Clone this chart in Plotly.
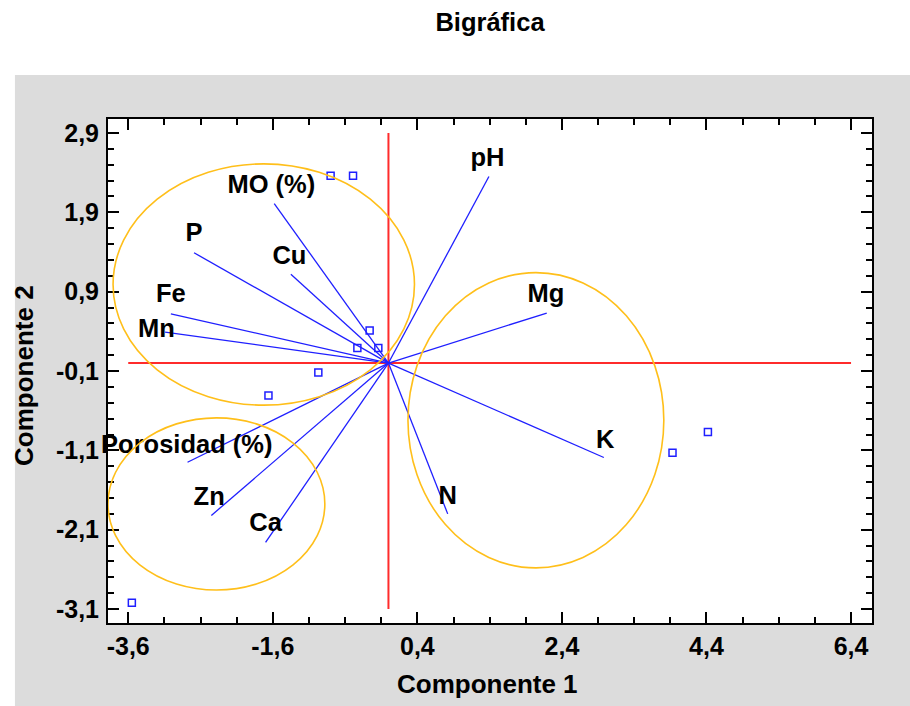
import plotly.graph_objects as go

# ---- data ----
variables = ["MO (%)", "P", "Cu", "Fe", "Mn", "pH", "Mg", "K", "N",
             "Porosidad (%)", "Zn", "Ca"]
load_x = [-1.58, -2.69, -1.35, -3.01, -3.09, 1.39, 2.19, 2.98, 0.82, -2.78, -2.45, -1.70]
load_y = [2.01, 1.39, 1.12, 0.62, 0.39, 2.35, 0.63, -1.19, -1.90, -1.25, -1.92, -2.26]
label_x = [-1.62, -2.69, -1.37, -3.01, -3.21, 1.37, 2.18, 3.00, 0.82, -2.79, -2.48, -1.70]
label_y = [2.22, 1.62, 1.33, 0.85, 0.41, 2.56, 0.85, -0.99, -1.70, -1.05, -1.71, -2.04]

score_x = [-0.80, -0.49, -0.26, -0.43, -0.14, -0.97, -1.66, -3.55, 3.93, 4.42]
score_y = [2.36, 2.36, 0.41, 0.19, 0.19, -0.12, -0.41, -3.02, -1.13, -0.87]

ellipse_x0 = [-3.81, -3.88, 0.27]
ellipse_x1 = [0.36, -0.88, 3.81]
ellipse_y0 = [-0.53, -2.86, -2.58]
ellipse_y1 = [2.51, -0.69, 1.14]

x_ticks = [-3.6, -1.6, 0.4, 2.4, 4.4, 6.4]
x_ticktext = ["-3,6", "-1,6", "0,4", "2,4", "4,4", "6,4"]
y_ticks = [2.9, 1.9, 0.9, -0.1, -1.1, -2.1, -3.1]
y_ticktext = ["2,9", "1,9", "0,9", "-0,1", "-1,1", "-2,1", "-3,1"]

hline_x = [-3.6, 6.4]
vline_y = [-3.1, 2.9]

FONT = "Liberation Sans"
BLUE = "#1f1fff"
RED = "#ff2b2b"
ORANGE = "#ffbf1a"

fig = go.Figure()

# red reference axes through the origin
fig.add_trace(go.Scatter(x=hline_x, y=[0, 0], mode="lines",
                         line=dict(color=RED, width=2), hoverinfo="skip"))
fig.add_trace(go.Scatter(x=[0, 0], y=vline_y, mode="lines",
                         line=dict(color=RED, width=2), hoverinfo="skip"))

# loading vectors
vx, vy = [], []
for x, y in zip(load_x, load_y):
    vx += [0, x, None]
    vy += [0, y, None]
fig.add_trace(go.Scatter(x=vx, y=vy, mode="lines",
                         line=dict(color=BLUE, width=1.3), hoverinfo="skip"))

# observation scores
fig.add_trace(go.Scatter(x=score_x, y=score_y, mode="markers",
                         marker=dict(symbol="square-open", size=7, color=BLUE,
                                     line=dict(width=1.5, color=BLUE))))

# variable labels
fig.add_trace(go.Scatter(x=label_x, y=label_y, mode="text", text=variables,
                         textposition="middle center", cliponaxis=False,
                         textfont=dict(family=FONT, size=25.5, color="black",
                                       weight="bold")))

shapes = [
    dict(type="rect", xref="paper", yref="paper",
         x0=-0.1218, x1=1.06, y0=-0.17, y1=1.0873,
         fillcolor="#dcdcdc", line=dict(width=0), layer="below"),
    dict(type="rect", xref="x domain", yref="y domain",
         x0=0, x1=1, y0=0, y1=1,
         fillcolor="white", line=dict(width=0), layer="below"),
]
for x0, x1, y0, y1 in zip(ellipse_x0, ellipse_x1, ellipse_y0, ellipse_y1):
    shapes.append(dict(type="circle", xref="x", yref="y",
                       x0=x0, x1=x1, y0=y0, y1=y1,
                       line=dict(color=ORANGE, width=1.6)))

tickfont = dict(family=FONT, size=25, color="black", weight="bold")
axis_common = dict(ticks="inside", ticklen=11, tickwidth=1.5, tickcolor="black",
                   showline=True, linecolor="black", linewidth=2, mirror="ticks",
                   showgrid=False, zeroline=False, tickmode="array",
                   tickfont=tickfont)

fig.update_layout(
    width=910, height=706,
    margin=dict(l=108, r=38, t=119, b=83),
    paper_bgcolor="white", plot_bgcolor="white",
    showlegend=False,
    shapes=shapes,
    title=dict(text="Bigráfica", xref="paper", x=0.5, xanchor="center",
               yref="container", y=1 - 22 / 706, yanchor="middle",
               font=dict(family=FONT, size=25.5, color="black", weight="bold")),
    xaxis=dict(range=[-3.88, 6.69], tickvals=x_ticks, ticktext=x_ticktext,
               ticklabelstandoff=0,
               minor=dict(tickmode="linear", tick0=0.4, dtick=0.5, ticks="inside",
                          ticklen=6, tickwidth=1.5, tickcolor="black", showgrid=False),
               **axis_common),
    yaxis=dict(range=[-3.275, 3.075], tickvals=y_ticks, ticktext=y_ticktext,
               ticklabelstandoff=2,
               minor=dict(tickmode="linear", tick0=-0.1, dtick=0.2, ticks="inside",
                          ticklen=6, tickwidth=1.5, tickcolor="black", showgrid=False),
               **axis_common),
    annotations=[
        dict(text="Componente 1", xref="paper", yref="paper",
             x=(487 - 108) / 763.7, y=(623 - 684) / 504, showarrow=False,
             xanchor="center", yanchor="middle",
             font=dict(family=FONT, size=26, color="black", weight="bold")),
        dict(text="Componente 2", xref="paper", yref="paper",
             x=(24 - 108) / 763.7, y=(623 - 375) / 504, showarrow=False,
             textangle=-90, xanchor="center", yanchor="middle",
             font=dict(family=FONT, size=26, color="black", weight="bold")),
    ],
)

fig.write_html("out.html")
